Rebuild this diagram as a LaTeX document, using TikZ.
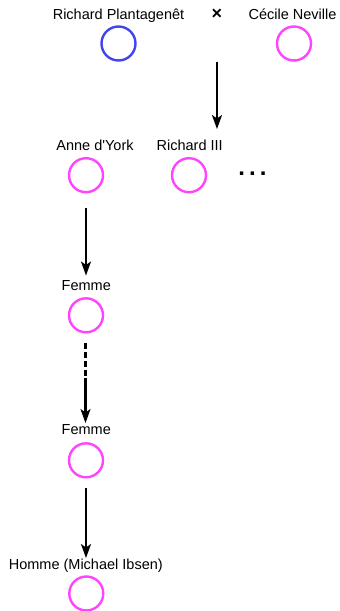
\documentclass[tikz,border=0pt]{standalone}
\usepackage{fontspec}
\setmainfont{Liberation Sans}
\usetikzlibrary{arrows.meta}
\definecolor{pblue}{RGB}{68,68,238}
\definecolor{pmag}{RGB}{255,68,255}
\begin{document}
\begin{tikzpicture}[x=1pt,y=-1pt,
  lbl/.style={anchor=base,inner sep=0pt,font=\fontsize{14.5}{17}\selectfont},
  person/.style={circle,draw,line width=2.4pt,minimum size=34pt,inner sep=0pt},
  male/.style={person,draw=pblue},
  female/.style={person,draw=pmag},
  arr/.style={line width=2.1pt,-{Stealth[length=14pt,width=10pt,inset=3.5pt]}},
  dsh/.style={line width=2.1pt,dash pattern=on 6pt off 3pt}]
\useasboundingbox (0,0) rectangle (340,611);
% top generation
\node[lbl] (lrp) at (118.5,19) {Richard Plantagenêt};
\node[male] (rp) at (118.5,43.5) {};
\node[lbl,font=\fontsize{18}{18}\selectfont\bfseries] (x) at (217,19) {×};
\node[lbl] (lcn) at (292.5,19) {Cécile Neville};
\node[female] (cn) at (294,43.5) {};
\coordinate (a1s) at (217,61.5);
\coordinate (a1e) at (217,129);
\draw[arr] (a1s) -- (a1e);
% second generation
\node[lbl] (lay) at (95,150.5) {Anne d\textquotesingle York};
\node[female] (ay) at (86,175.2) {};
\node[lbl] (lr3) at (189.7,150.5) {Richard III};
\node[female] (r3) at (189,175.2) {};
\node[anchor=base,inner sep=0pt,font=\fontsize{24}{24}\selectfont\bfseries] (dots) at (252.5,175) {.\kern4pt.\kern4pt.};
\coordinate (a2s) at (86,208);
\coordinate (a2e) at (86,275.5);
\draw[arr] (a2s) -- (a2e);
% third
\node[lbl] (lf1) at (86.3,290.7) {Femme};
\node[female] (f1) at (86,315.3) {};
\coordinate (a3s) at (85.5,343);
\coordinate (a3m) at (85.5,378);
\coordinate (a3e) at (85.5,423);
\draw[dsh] (a3s) -- (a3m);
\draw[arr] (a3m) -- (a3e);
% fourth
\node[lbl] (lf2) at (86.3,434.7) {Femme};
\node[female] (f2) at (86,460.3) {};
\coordinate (a4s) at (86,488);
\coordinate (a4e) at (86,558);
\draw[arr] (a4s) -- (a4e);
% last
\node[lbl] (lhm) at (85.8,569.5) {Homme (Michael Ibsen)};
\node[female] (hm) at (86.3,593.5) {};
\end{tikzpicture}
\end{document}
